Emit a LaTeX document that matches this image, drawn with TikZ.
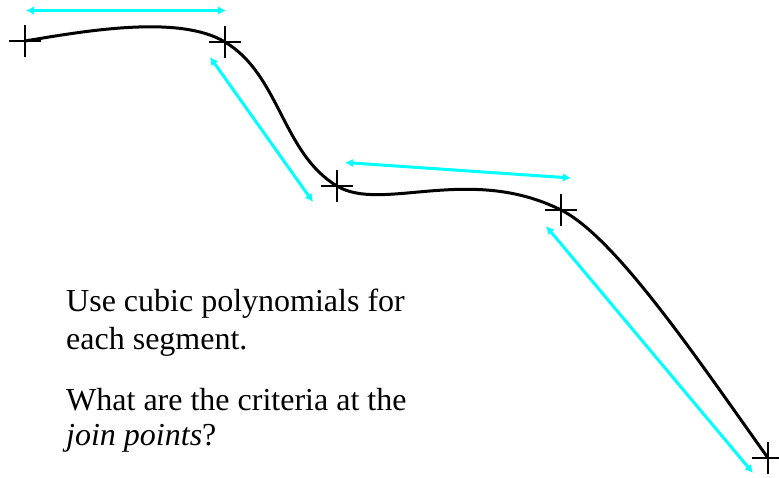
\documentclass[tikz,border=0pt]{standalone}
\usepackage{fontspec}
\setmainfont{Liberation Serif}
\usetikzlibrary{arrows.meta}
\definecolor{cyanarrow}{RGB}{0,255,255}
\tikzset{
  curveline/.style={line width=3pt, black},
  crossline/.style={line width=1.1pt, black},
  lenarrow/.style={line width=3pt, cyanarrow, {Latex[length=8pt,width=8.5pt]}-{Latex[length=8pt,width=8.5pt]}},
  txt/.style={inner sep=0pt, anchor=base west, font=\fontsize{32}{36}\selectfont}
}
\begin{document}
\begin{tikzpicture}[x=1pt,y=-1pt]
\useasboundingbox (0,0) rectangle (779,477);
% join points
\coordinate (P0) at (25,41);
\coordinate (P1) at (225,42);
\coordinate (P2) at (337,186);
\coordinate (P3) at (561,210);
\coordinate (P4) at (768,458);
% curve
\draw[curveline] (P0) .. controls (90,30) and (180,15) .. (P1)
  .. controls (280,75) and (282,153) .. (P2)
  .. controls (382,213) and (469,164) .. (P3)
  .. controls (616,237.5) and (698,360) .. (P4);
% crosses
\foreach \p in {P0,P1,P2,P3,P4}{
  \draw[crossline] ([xshift=-16pt]\p) -- ([xshift=16pt]\p);
  \draw[crossline] ([yshift=-16pt]\p) -- ([yshift=16pt]\p);
}
% arrow end points
\coordinate (A1s) at (26,10.5);
\coordinate (A1e) at (226,10.5);
\coordinate (A2s) at (210,57);
\coordinate (A2e) at (313,202);
\coordinate (A3s) at (345,162.5);
\coordinate (A3e) at (571,178);
\coordinate (A4s) at (546,226);
\coordinate (A4e) at (753,473);
\draw[lenarrow] (A1s) -- (A1e);
\draw[lenarrow] (A2s) -- (A2e);
\draw[lenarrow] (A3s) -- (A3e);
\draw[lenarrow] (A4s) -- (A4e);
% text
\node[txt] (t1) at (66,311.5) {Use cubic polynomials for};
\node[txt] (t2) at (66,349) {each segment.};
\node[txt] (t3) at (66,410) {What are the criteria at the};
\node[txt] (t4) at (66,445.5) {\textit{join points}?};
\end{tikzpicture}
\end{document}
